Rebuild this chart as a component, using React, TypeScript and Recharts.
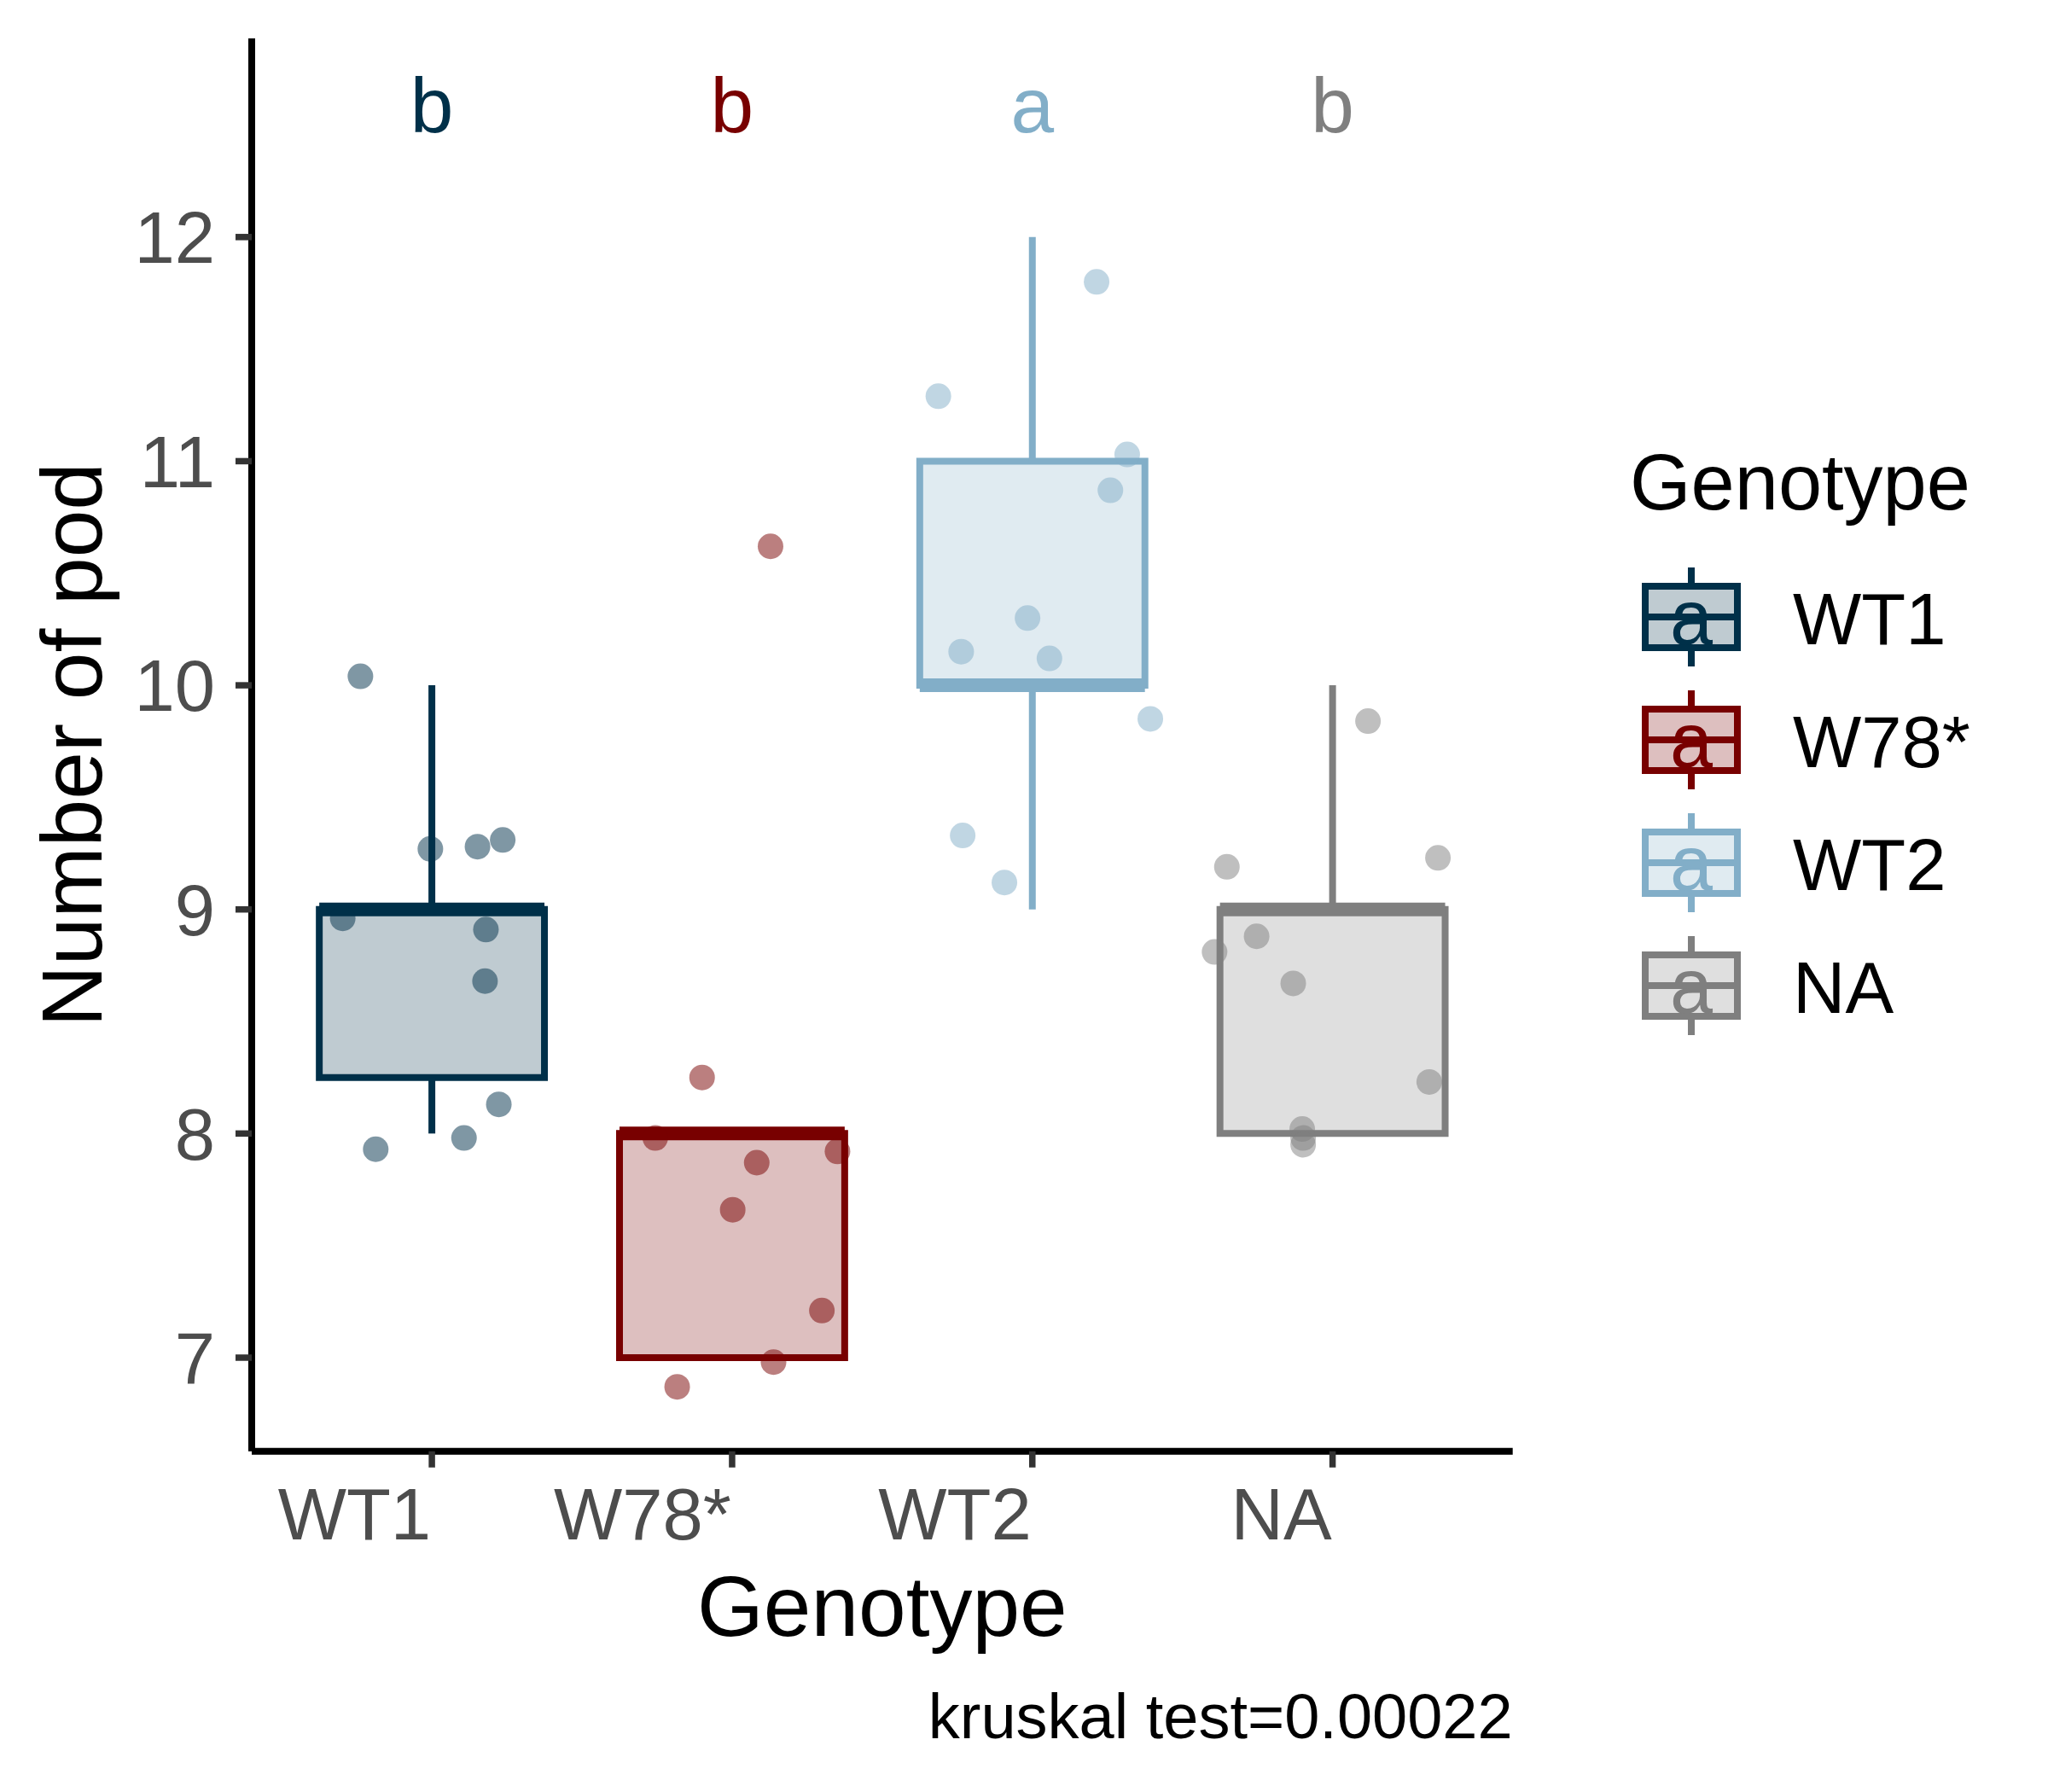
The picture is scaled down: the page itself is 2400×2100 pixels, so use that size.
import React from 'react';
import {
  ComposedChart,
  XAxis,
  YAxis,
  Scatter,
  ReferenceArea,
  ReferenceLine,
  Legend,
  Label,
} from 'recharts';

const FONT = '"Liberation Sans", Arial, Helvetica, sans-serif';

// ---- categories & styling keys ----
const genotypes = ['WT1', 'W78*', 'WT2', 'NA'];
const strokeColors = ['#003049', '#780000', '#82AEC8', '#7F7F7F'];
const groupLetters = ['b', 'b', 'a', 'b'];
const letterLevel = 12.5;

// ---- box statistics ----
const boxQ1 = [8.25, 7, 10, 8];
const boxMedian = [9, 8, 10, 9];
const boxQ3 = [9, 8, 11, 9];
const whiskerLow = [8, 7, 9, 8];
const whiskerHigh = [10, 8, 12, 10];

const wt1Pods = [10.04, 9.27, 9.28, 9.31, 8.96, 8.91, 8.68, 8.13, 7.98, 7.93];
const wt1Jitter = [-0.238, -0.005, 0.152, 0.236, -0.297, 0.18, 0.177, 0.223, 0.107, -0.187];

const w78Pods = [10.62, 8.25, 7.98, 7.87, 7.92, 7.66, 7.21, 6.98, 6.87];
const w78Jitter = [0.128, -0.1, -0.256, 0.082, 0.351, 0.002, 0.299, 0.138, -0.183];

const wt2Pods = [11.8, 11.29, 11.03, 10.87, 10.3, 10.15, 10.12, 9.85, 9.33, 9.12];
const wt2Jitter = [0.214, -0.313, 0.316, 0.26, -0.016, -0.237, 0.057, 0.393, -0.232, -0.093];

const naPods = [9.84, 9.23, 9.19, 8.88, 8.81, 8.67, 8.23, 8.02, 7.98, 7.95];
const naJitter = [0.118, 0.351, -0.352, -0.253, -0.393, -0.131, 0.322, -0.101, -0.098, -0.098];

const podSets = [wt1Pods, w78Pods, wt2Pods, naPods];
const jitterSets = [wt1Jitter, w78Jitter, wt2Jitter, naJitter];

// ---- axes ----
const xTicks = [1, 2, 3, 4];
const yTicks = [7, 8, 9, 10, 11, 12];
const xDomain = [0.4, 4.6];
const yDomain = [6.5823, 12.8864];
const xTitle = 'Genotype';
const yTitle = 'Number of pod';
const legendTitle = 'Genotype';
const caption = 'kruskal test=0.00022';

const BOX_HALF = 0.375;

const pointData = podSets.map((vals, g) =>
  vals.map((y, i) => ({ x: g + 1 + jitterSets[g][i], y }))
);
const letterData = genotypes.map((_, i) => ({
  x: i + 1,
  y: letterLevel,
  letter: groupLetters[i],
  color: strokeColors[i],
}));

const XTick = (props: any) => {
  const { x, y, payload } = props;
  return (
    <text
      x={x - 1}
      y={y}
      dy="0.71em"
      textAnchor="end"
      fontSize={85}
      fontFamily={FONT}
      fill="#4D4D4D"
    >
      {genotypes[payload.value - 1]}
    </text>
  );
};

const YTick = (props: any) => {
  const { x, y, payload } = props;
  return (
    <text
      x={x}
      y={y}
      dy="0.355em"
      textAnchor="end"
      fontSize={85}
      fontFamily={FONT}
      fill="#4D4D4D"
    >
      {payload.value}
    </text>
  );
};

const XTitle = (props: any) => {
  const vb = props.viewBox || { x: 295, y: 1700.7, width: 1477.7, height: 399.3 };
  return (
    <text
      x={vb.x + vb.width / 2}
      y={vb.y + 216.3}
      textAnchor="middle"
      fontSize={100}
      fontFamily={FONT}
      fill="#000"
    >
      {xTitle}
    </text>
  );
};

const Caption = (props: any) => {
  const vb = props.viewBox || { x: 295, y: 1700.7, width: 1477.7, height: 399.3 };
  return (
    <text
      x={vb.x + vb.width}
      y={vb.y + 336.3}
      textAnchor="end"
      fontSize={74}
      fontFamily={FONT}
      fill="#000"
    >
      {caption}
    </text>
  );
};

const YTitle = (props: any) => {
  const vb = props.viewBox || { x: 0, y: 45, width: 295, height: 1655.7 };
  const cy = vb.y + vb.height / 2;
  return (
    <text
      x={119}
      y={cy}
      transform={`rotate(-90, 119, ${cy})`}
      textAnchor="middle"
      fontSize={100}
      fontFamily={FONT}
      fill="#000"
    >
      {yTitle}
    </text>
  );
};

const LegendContent = () => (
  <svg width={510} height={800} style={{ overflow: 'visible', display: 'block' }}>
    <text x={20} y={117} fontSize={92} fontFamily={FONT} fill="#000">
      {legendTitle}
    </text>
    {genotypes.map((g, i) => {
      const cy = 243 + 144 * i;
      const c = strokeColors[i];
      return (
        <g key={g}>
          <line x1={92} x2={92} y1={cy - 58} y2={cy - 36} stroke={c} strokeWidth={8} />
          <line x1={92} x2={92} y1={cy + 36} y2={cy + 58} stroke={c} strokeWidth={8} />
          <rect
            x={38}
            y={cy - 36}
            width={108}
            height={72}
            fill={c}
            fillOpacity={0.25}
            stroke={c}
            strokeWidth={8}
          />
          <line x1={38} x2={146} y1={cy} y2={cy} stroke={c} strokeWidth={8} />
          <text
            x={92}
            y={cy + 32}
            textAnchor="middle"
            fontSize={90}
            fontFamily={FONT}
            fill={c}
          >
            a
          </text>
          <text x={211} y={cy + 32} fontSize={85} fontFamily={FONT} fill="#000">
            {g}
          </text>
        </g>
      );
    })}
  </svg>
);

export default function App() {
  return (
    <div style={{ width: 2400, height: 2100, background: '#fff', position: 'relative' }}>
      <style>{'body{margin:0;background:#fff;}'}</style>
      <ComposedChart
        width={2400}
        height={2100}
        margin={{ top: 45, right: 627.3, bottom: 0, left: 0 }}
        style={{ fontFamily: FONT }}
      >
        <XAxis
          type="number"
          dataKey="x"
          domain={xDomain}
          ticks={xTicks}
          allowDataOverflow
          height={399.3}
          tickSize={19}
          tickMargin={24}
          axisLine={{ stroke: '#000', strokeWidth: 8 }}
          tickLine={{ stroke: '#333333', strokeWidth: 7.5 }}
          tick={XTick}
          interval={0}
        >
          <Label content={XTitle} />
          <Label content={Caption} />
        </XAxis>
        <YAxis
          type="number"
          dataKey="y"
          domain={yDomain}
          ticks={yTicks}
          allowDataOverflow
          width={295}
          tickSize={19}
          tickMargin={24}
          axisLine={{ stroke: '#000', strokeWidth: 8 }}
          tickLine={{ stroke: '#333333', strokeWidth: 7.5 }}
          tick={YTick}
          interval={0}
        >
          <Label content={YTitle} />
        </YAxis>

        {genotypes.map((g, i) => (
          <ReferenceArea
            key={`box-${g}`}
            x1={i + 1 - BOX_HALF}
            x2={i + 1 + BOX_HALF}
            y1={boxQ1[i]}
            y2={boxQ3[i]}
            fill={strokeColors[i]}
            fillOpacity={0.25}
            stroke={strokeColors[i]}
            strokeWidth={8}
            ifOverflow="visible"
          />
        ))}
        {genotypes.map((g, i) =>
          whiskerHigh[i] > boxQ3[i] ? (
            <ReferenceLine
              key={`wh-${g}`}
              segment={[
                { x: i + 1, y: boxQ3[i] },
                { x: i + 1, y: whiskerHigh[i] },
              ]}
              stroke={strokeColors[i]}
              strokeWidth={8}
              ifOverflow="visible"
            />
          ) : null
        )}
        {genotypes.map((g, i) =>
          whiskerLow[i] < boxQ1[i] ? (
            <ReferenceLine
              key={`wl-${g}`}
              segment={[
                { x: i + 1, y: whiskerLow[i] },
                { x: i + 1, y: boxQ1[i] },
              ]}
              stroke={strokeColors[i]}
              strokeWidth={8}
              ifOverflow="visible"
            />
          ) : null
        )}
        {genotypes.map((g, i) => (
          <ReferenceLine
            key={`med-${g}`}
            segment={[
              { x: i + 1 - BOX_HALF, y: boxMedian[i] },
              { x: i + 1 + BOX_HALF, y: boxMedian[i] },
            ]}
            stroke={strokeColors[i]}
            strokeWidth={16}
            ifOverflow="visible"
          />
        ))}

        {genotypes.map((g, i) => (
          <Scatter
            key={`pts-${g}`}
            name={g}
            data={pointData[i]}
            isAnimationActive={false}
            legendType="none"
            shape={(p: any) => (
              <circle cx={p.cx} cy={p.cy} r={15} fill={strokeColors[i]} fillOpacity={0.5} />
            )}
          />
        ))}

        <Scatter
          name="letters"
          data={letterData}
          isAnimationActive={false}
          legendType="none"
          shape={(p: any) => (
            <text
              x={p.cx}
              y={p.cy}
              dy={9}
              textAnchor="middle"
              fontSize={91}
              fontFamily={FONT}
              fill={p.payload.color}
            >
              {p.payload.letter}
            </text>
          )}
        />

        <Legend
          layout="horizontal"
          verticalAlign="middle"
          align="center"
          wrapperStyle={{ left: 1890, top: 480, width: 510, height: 800 }}
          content={LegendContent}
        />
      </ComposedChart>
    </div>
  );
}
